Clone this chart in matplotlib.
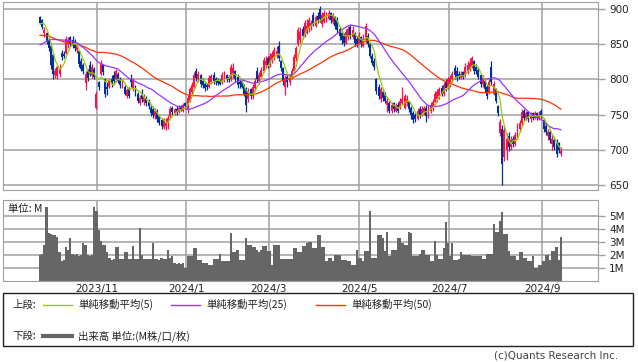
import numpy as np
import pandas as pd
import matplotlib
matplotlib.use('Agg')
import matplotlib.pyplot as plt
from matplotlib.patches import Rectangle

# closes before the visible window (only used to warm up the moving averages)
pre_close = [868, 872, 878, 874, 880, 884, 878, 872, 876, 880, 886, 882, 876, 870, 874, 878, 882,
             876, 870, 866, 872, 878, 880, 876, 874,
             836, 824, 812, 804, 800, 806, 812, 818, 826, 834,
             846, 856, 862, 866, 870, 872, 868, 874, 876, 872, 870, 876, 882, 886]

open_ = [888, 884, 866, 866, 856, 848, 835, 806, 805, 808,
         838, 836, 838, 850, 860, 856, 854, 842, 840, 826,
         820, 795, 812, 820, 806, 815, 760, 796, 808, 820,
         800, 790, 790, 800, 806, 800, 808, 800, 792, 790,
         776, 786, 800, 788, 790, 780, 766, 778, 768, 774,
         768, 760, 758, 748, 755, 748, 742, 732, 734, 738,
         748, 760, 752, 758, 754, 762, 756, 766, 758, 770,
         782, 790, 812, 800, 806, 798, 794, 792, 790, 796,
         806, 800, 798, 798, 796, 798, 806, 804, 800, 806,
         812, 804, 796, 798, 792, 786, 772, 786, 776, 788,
         812, 798, 804, 812, 820, 830, 820, 828, 832, 836,
         848, 826, 816, 790, 804, 796, 804, 812, 830, 850,
         856, 872, 862, 866, 872, 874, 892, 876, 890, 900,
         878, 882, 884, 886, 894, 882, 888, 884, 872, 866,
         862, 852, 860, 874, 860, 866, 858, 852, 860, 848,
         856, 862, 850, 834, 826, 800, 790, 772, 782, 778,
         764, 766, 756, 766, 756, 764, 760, 766, 760, 766,
         768, 760, 752, 750, 744, 758, 750, 752, 760, 750,
         756, 760, 768, 772, 776, 788, 780, 796, 790, 794,
         800, 816, 812, 808, 802, 810, 806, 810, 814, 818,
         826, 818, 814, 806, 794, 798, 790, 782, 818, 780,
         786, 762, 724, 730, 690, 700, 720, 704, 716, 708,
         718, 730, 738, 756, 746, 754, 744, 752, 746, 752,
         744, 756, 742, 734, 720, 726, 708, 714, 712, 710, 694]

high = [890, 886, 874, 868, 860, 850, 838, 816, 820, 822,
        842, 840, 862, 860, 862, 862, 858, 852, 842, 830,
        824, 812, 815, 826, 822, 818, 783, 798, 828, 822,
        802, 796, 802, 806, 812, 815, 810, 804, 800, 792,
        788, 790, 808, 802, 792, 782, 778, 786, 780, 776,
        772, 764, 762, 760, 758, 750, 746, 746, 746, 750,
        762, 762, 760, 762, 764, 764, 766, 768, 778, 790,
        796, 810, 816, 812, 808, 802, 796, 795, 806, 808,
        810, 804, 802, 800, 810, 812, 808, 806, 822, 824,
        814, 808, 800, 800, 794, 790, 788, 788, 794, 802,
        818, 810, 818, 832, 834, 834, 838, 840, 846, 848,
        854, 828, 818, 806, 808, 808, 816, 836, 848, 874,
        874, 876, 884, 886, 888, 884, 896, 892, 896, 904,
        896, 898, 896, 898, 896, 894, 890, 888, 876, 870,
        866, 872, 876, 878, 876, 868, 862, 868, 862, 864,
        880, 866, 852, 838, 830, 802, 794, 790, 786, 782,
        774, 770, 768, 768, 766, 768, 774, 790, 780, 778,
        770, 762, 756, 752, 760, 762, 762, 762, 764, 764,
        768, 772, 784, 786, 790, 792, 796, 800, 804, 806,
        812, 820, 818, 812, 812, 812, 824, 826, 830, 834,
        828, 822, 818, 808, 806, 800, 792, 800, 826, 798,
        788, 764, 744, 736, 734, 724, 726, 720, 720, 726,
        738, 742, 758, 758, 756, 756, 754, 754, 756, 754,
        756, 758, 746, 738, 730, 728, 722, 718, 716, 712, 704]

low = [878, 872, 860, 850, 840, 815, 800, 802, 800, 804,
       828, 830, 836, 845, 848, 845, 840, 838, 818, 812,
       808, 785, 798, 805, 802, 800, 758, 785, 806, 806,
       775, 778, 788, 790, 794, 796, 795, 788, 788, 778,
       774, 774, 790, 784, 776, 766, 764, 768, 764, 762,
       758, 748, 745, 744, 740, 735, 730, 730, 728, 730,
       746, 750, 750, 750, 752, 755, 754, 758, 752, 768,
       778, 788, 798, 796, 790, 788, 784, 785, 788, 794,
       794, 792, 792, 792, 794, 796, 796, 796, 798, 802,
       796, 788, 788, 788, 776, 754, 768, 772, 772, 784,
       796, 794, 802, 810, 816, 816, 818, 824, 828, 830,
       826, 812, 792, 778, 790, 792, 800, 808, 826, 848,
       852, 858, 860, 864, 868, 870, 876, 874, 880, 882,
       874, 880, 882, 884, 880, 878, 872, 866, 856, 850,
       848, 850, 856, 858, 858, 848, 846, 850, 846, 846,
       852, 846, 830, 820, 814, 780, 772, 768, 770, 766,
       754, 752, 752, 754, 754, 752, 758, 764, 758, 762,
       754, 744, 738, 740, 742, 746, 748, 750, 740, 746,
       752, 756, 764, 768, 772, 776, 776, 784, 786, 790,
       796, 800, 798, 800, 800, 800, 804, 808, 812, 816,
       808, 808, 800, 790, 790, 782, 772, 780, 792, 778,
       766, 748, 720, 650, 684, 686, 698, 700, 704, 706,
       716, 726, 736, 742, 742, 740, 740, 742, 744, 742,
       742, 746, 726, 722, 714, 710, 700, 700, 690, 696, 692]

close = [880, 875, 870, 853, 845, 820, 808, 812, 818, 815,
         832, 833, 858, 856, 850, 848, 844, 848, 822, 815,
         812, 808, 802, 808, 818, 804, 780, 790, 824, 810,
         780, 786, 798, 795, 798, 812, 798, 792, 796, 780,
         785, 777, 796, 798, 780, 770, 774, 772, 776, 766,
         762, 752, 750, 756, 744, 738, 734, 742, 738, 746,
         758, 754, 758, 754, 760, 757, 764, 762, 774, 786,
         792, 806, 802, 808, 794, 792, 788, 790, 802, 805,
         798, 796, 795, 794, 806, 808, 800, 799, 818, 816,
         800, 792, 794, 790, 780, 764, 784, 776, 790, 798,
         800, 806, 814, 828, 826, 820, 834, 836, 842, 840,
         830, 816, 798, 802, 796, 804, 812, 832, 845, 870,
         868, 862, 880, 876, 884, 880, 878, 888, 884, 886,
         892, 894, 892, 894, 884, 890, 876, 870, 862, 856,
         852, 868, 872, 862, 870, 852, 850, 862, 850, 858,
         876, 850, 834, 824, 818, 784, 776, 786, 774, 770,
         770, 756, 764, 758, 762, 756, 770, 772, 776, 772,
         758, 750, 742, 744, 756, 750, 758, 760, 748, 760,
         764, 768, 780, 782, 786, 780, 792, 788, 800, 802,
         808, 806, 802, 804, 808, 804, 818, 820, 824, 830,
         812, 812, 804, 794, 802, 786, 776, 796, 796, 794,
         770, 752, 740, 680, 728, 716, 704, 714, 708, 722,
         734, 738, 754, 746, 752, 744, 750, 746, 752, 746,
         750, 750, 730, 726, 726, 714, 716, 704, 694, 700, 698]

# volume in millions of shares
volume = [2.0, 2.1, 2.8, 5.7, 3.7, 3.6, 3.5, 3.5, 3.4, 2.2,
          1.5, 1.6, 2.6, 2.4, 3.3, 2.1, 2.0, 2.1, 1.9, 2.0,
          2.9, 2.8, 2.0, 1.9, 2.0, 5.7, 5.4, 3.9, 3.1, 2.8,
          2.8, 2.2, 1.8, 1.6, 1.7, 2.6, 2.6, 1.7, 1.7, 2.2,
          2.2, 1.7, 1.7, 2.7, 1.7, 1.7, 4.1, 2.0, 1.7, 1.7,
          1.7, 1.7, 2.9, 1.7, 1.7, 1.6, 1.8, 1.7, 1.7, 2.4,
          1.8, 1.9, 1.4, 1.3, 1.4, 1.3, 1.4, 1.0, 1.9, 1.9,
          1.9, 2.5, 2.5, 1.6, 1.6, 1.4, 1.4, 1.4, 1.2, 1.2,
          1.7, 1.7, 1.7, 2.1, 1.5, 1.5, 1.5, 1.5, 3.7, 2.2,
          2.2, 2.4, 1.6, 1.6, 1.6, 3.3, 2.8, 2.8, 2.6, 2.6,
          2.4, 2.2, 2.4, 2.7, 2.7, 2.3, 2.3, 1.2, 2.8, 2.8,
          2.8, 1.7, 1.7, 1.7, 1.7, 1.7, 1.7, 2.5, 2.5, 2.2,
          2.2, 2.7, 2.7, 2.9, 3.0, 3.0, 2.5, 2.5, 3.5, 3.5,
          2.6, 2.6, 1.5, 1.8, 1.8, 1.5, 2.0, 2.0, 2.0, 1.6,
          1.6, 1.6, 1.5, 1.5, 1.2, 1.2, 2.4, 1.8, 1.8, 1.5,
          2.3, 2.3, 5.4, 1.8, 1.8, 1.8, 3.5, 3.5, 3.3, 2.3,
          3.8, 1.9, 2.4, 2.4, 2.4, 3.3, 3.3, 2.9, 2.8, 2.8,
          3.8, 3.7, 1.9, 1.9, 1.9, 2.1, 2.4, 2.4, 2.0, 2.0,
          1.5, 1.5, 3.1, 2.0, 1.7, 1.7, 2.5, 4.5, 2.9, 1.9,
          2.9, 1.6, 1.6, 1.7, 2.2, 2.0, 2.0, 2.0, 2.0, 1.9,
          1.9, 1.9, 1.9, 1.9, 1.7, 1.7, 2.1, 2.1, 2.1, 4.4,
          3.8, 3.8, 4.6, 5.3, 3.6, 3.6, 2.3, 1.9, 1.9, 1.9,
          1.6, 2.2, 2.2, 1.8, 1.8, 1.5, 1.5, 1.9, 1.0, 1.0,
          1.2, 1.2, 1.5, 2.0, 2.0, 1.6, 2.3, 2.3, 2.6, 1.6, 3.4]

month_labels = ['2023/11', '2024/1', '2024/3', '2024/5', '2024/7', '2024/9']
month_pos = [26.3, 67.3, 105.5, 147.0, 188.5, 231.3]
price_ticks = [650, 700, 750, 800, 850, 900]
vol_ticks = [1, 2, 3, 4, 5]
vol_labels = ['1M', '2M', '3M', '4M', '5M']

UP = '#ff1048'
DOWN = '#00309c'
GRID = '#a0a0a0'
C5, C25, C50 = '#99cc00', '#9933ff', '#ff3300'
JP = ['Noto Sans CJK JP', 'DejaVu Sans']

o = np.array(open_, float)
h = np.array(high, float)
l = np.array(low, float)
c = np.array(close, float)
days = np.arange(len(c))

allc = pd.Series(pre_close + close, dtype=float)
n = len(c)
ma5 = allc.rolling(5).mean().values[-n:]
ma25 = allc.rolling(25).mean().values[-n:]
ma50 = allc.rolling(50).mean().values[-n:]

W, H = 638, 362
fig = plt.figure(figsize=(W / 100, H / 100), dpi=100)


def px_axes(x0, y0, x1, y1):
    return fig.add_axes([x0 / W, 1 - y1 / H, (x1 - x0) / W, (y1 - y0) / H])


xlim = (-17.05, 257.1)

# price panel
ax = px_axes(3, 1.5, 598, 190)
ax.set_xlim(*xlim)
ax.set_ylim(643.3, 910.6)
for p in price_ticks:
    ax.axhline(p, color=GRID, lw=1.1, zorder=0)
for m in month_pos:
    ax.axvline(m, color=GRID, lw=1.1, zorder=0)

cols = np.where(c >= o, UP, DOWN)
ax.vlines(days, l, h, colors=cols, lw=0.9, zorder=2)
body = np.maximum(np.abs(c - o), 0.8)
ax.bar(days, body, bottom=np.minimum(o, c), width=0.9, color=cols, lw=0, zorder=2)
ax.plot(days, ma50, color=C50, lw=0.9, zorder=3)
ax.plot(days, ma25, color=C25, lw=0.9, zorder=3)
ax.plot(days, ma5, color=C5, lw=0.9, zorder=3)

ax.yaxis.tick_right()
ax.set_yticks(price_ticks)
ax.set_xticks([])
ax.tick_params(axis='y', length=5, width=1, color=GRID, labelsize=7.5, pad=3, labelcolor='#222222')
for s in ax.spines.values():
    s.set_color(GRID)

# volume panel
axv = px_axes(3, 200, 598, 281)
axv.set_xlim(*xlim)
axv.set_ylim(0, 6.23)
for v in vol_ticks:
    axv.axhline(v, color=GRID, lw=1.1, zorder=0)
for m in month_pos:
    axv.axvline(m, color=GRID, lw=1.1, zorder=0)
axv.bar(days, volume, width=1.0, color='#666666', lw=0, zorder=2)
axv.yaxis.tick_right()
axv.set_yticks(vol_ticks)
axv.set_yticklabels(vol_labels)
axv.set_xticks(month_pos)
axv.set_xticklabels(month_labels)
axv.tick_params(axis='y', length=5, width=1, color=GRID, labelsize=7.5, pad=3, labelcolor='#222222')
axv.tick_params(axis='x', length=0, labelsize=7.5, pad=2, labelcolor='#222222')
for s in axv.spines.values():
    s.set_color(GRID)

# overlay in pixel coordinates for legend and notes
ol = fig.add_axes([0, 0, 1, 1])
ol.set_xlim(0, W)
ol.set_ylim(H, 0)
ol.axis('off')

ol.text(8, 209, '単位: M', fontsize=7.5, va='center', family=JP, color='#222222')
ol.add_patch(Rectangle((3, 293), 630, 53, fill=False, edgecolor='#222222', lw=1))

ol.text(12, 304.5, '上段:', fontsize=7.5, va='center', family=JP, color='#222222')
for x0, col, lab in [(43, C5, '単純移動平均(5)'), (171, C25, '単純移動平均(25)'),
                     (316, C50, '単純移動平均(50)')]:
    ol.plot([x0, x0 + 29], [304.5, 304.5], color=col, lw=1)
    ol.text(x0 + 35, 304.5, lab, fontsize=7.5, va='center', family=JP, color='#222222')

ol.text(12, 336, '下段:', fontsize=7.5, va='center', family=JP, color='#222222')
ol.plot([43, 72], [336, 336], color='#666666', lw=3)
ol.text(78, 336, '出来高 単位:(M株/口/枚)', fontsize=7.5, va='center', family=JP, color='#222222')

ol.text(618, 356, '(c)Quants Research Inc.', fontsize=7.5, ha='right', va='center',
        color='#444444')

fig.savefig('out.png', dpi=100)
